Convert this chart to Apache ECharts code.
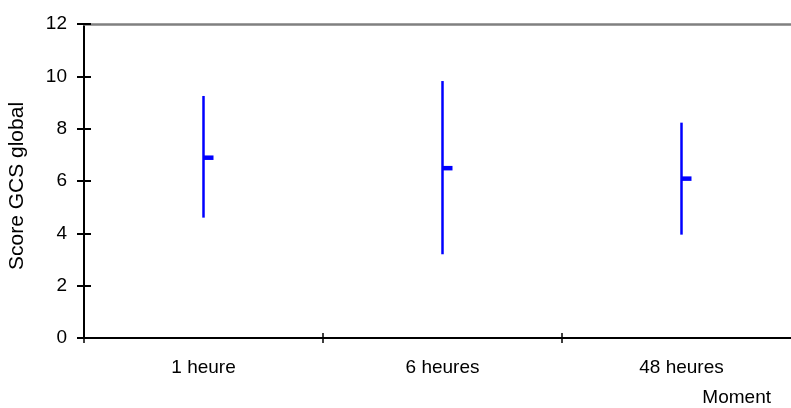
<!DOCTYPE html>
<html>
<head>
<meta charset="utf-8">
<script src="https://cdn.jsdelivr.net/npm/echarts@6/dist/echarts.min.js"></script>
<style>html,body{margin:0;padding:0;background:#fff;}#c{width:791px;height:408px;}</style>
</head>
<body>
<div id="c"></div>
<script>
var categories = ['1 heure', '6 heures', '48 heures'];
var lowValues = [4.6, 3.2, 3.95];
var highValues = [9.25, 9.82, 8.23];
var meanValues = [6.9, 6.5, 6.1];
var yTicks = [0, 2, 4, 6, 8, 10, 12];

var chart = echarts.init(document.getElementById('c'), null, {renderer: 'canvas'});
var data = categories.map(function (c, i) { return [i, lowValues[i], highValues[i], meanValues[i]]; });
var font = 'Liberation Sans, Arial, sans-serif';
chart.setOption({
  animation: false,
  grid: {left: 84, width: 717, top: 24, height: 314, containLabel: false, outerBoundsMode: 'none'},
  xAxis: [{
    type: 'category', data: categories, boundaryGap: true, position: 'bottom',
    axisLine: {onZero: false, lineStyle: {color: '#000', width: 2}},
    axisTick: {show: true, length: 5, lineStyle: {color: '#000', width: 1.5}},
    axisLabel: {color: '#000', fontSize: 19, fontFamily: font, margin: 20},
    splitLine: {show: false}
  }, {
    type: 'category', data: categories, position: 'top',
    axisLine: {onZero: false, lineStyle: {color: '#808080', width: 2.5}},
    axisTick: {show: false}, axisLabel: {show: false}, splitLine: {show: false}
  }, {
    type: 'category', data: categories, boundaryGap: true, position: 'bottom',
    axisLine: {show: false, onZero: false},
    axisTick: {show: true, inside: true, length: 5, lineStyle: {color: '#000', width: 1.5}},
    axisLabel: {show: false}, splitLine: {show: false}
  }],
  yAxis: [{
    type: 'value', min: 0, max: 12, interval: 2,
    name: 'Score GCS global', nameLocation: 'middle', nameGap: 56, nameRotate: 90,
    nameTextStyle: {color: '#000', fontSize: 21, fontFamily: font, padding: [0, 10, 0, 0]},
    axisLine: {show: true, lineStyle: {color: '#000', width: 2}},
    axisTick: {show: true, length: 7, lineStyle: {color: '#000', width: 2}},
    axisLabel: {color: '#000', fontSize: 19, fontFamily: font, margin: 17,
      formatter: function (v) { return yTicks.indexOf(v) >= 0 ? String(v) : ''; }},
    splitLine: {show: false}
  }, {
    type: 'value', min: 0, max: 12, interval: 2, position: 'left',
    axisLine: {show: false},
    axisTick: {show: true, inside: true, length: 7, lineStyle: {color: '#000', width: 2}},
    axisLabel: {show: false}, splitLine: {show: false}
  }],
  graphic: [{
    type: 'text', right: 20, top: 388,
    style: {text: 'Moment', fill: '#000', fontSize: 19, fontFamily: font}
  }],
  series: [{
    type: 'custom',
    data: data,
    renderItem: function (params, api) {
      var i = api.value(0);
      var lo = api.coord([i, api.value(1)]);
      var hi = api.coord([i, api.value(2)]);
      var me = api.coord([i, api.value(3)]);
      return {
        type: 'group',
        children: [{
          type: 'line',
          shape: {x1: lo[0], y1: lo[1], x2: hi[0], y2: hi[1]},
          style: {stroke: '#0000FF', lineWidth: 2.5}
        }, {
          type: 'rect',
          shape: {x: me[0], y: me[1] - 2, width: 10, height: 4.5},
          style: {fill: '#0000FF'}
        }]
      };
    }
  }]
});
</script>
</body>
</html>
